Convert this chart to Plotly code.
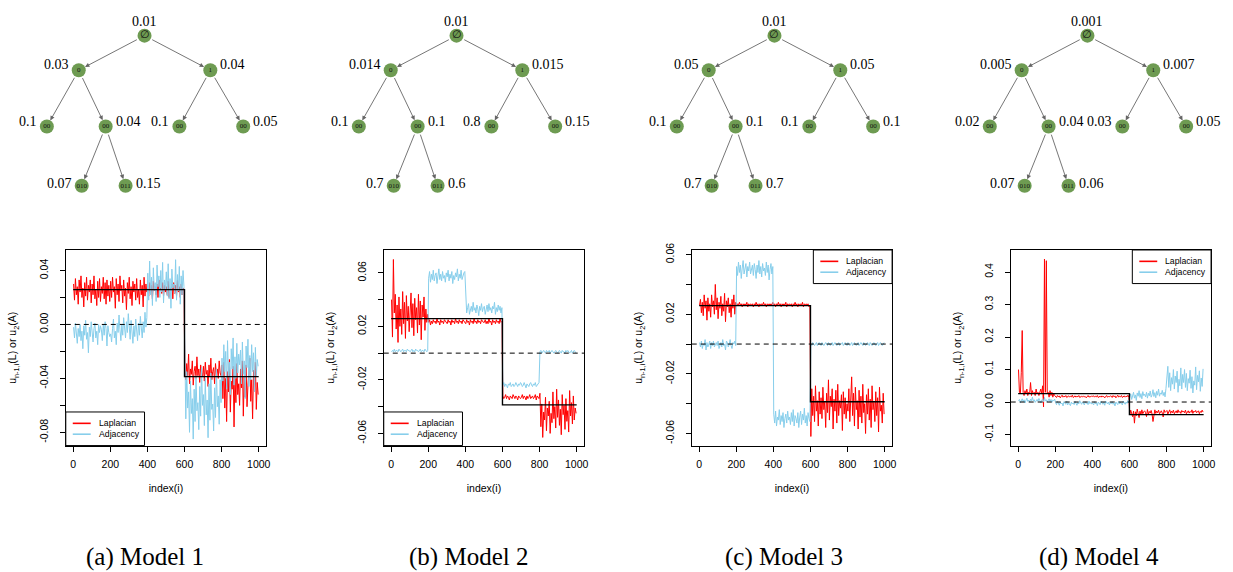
import plotly.graph_objects as go

W, H = 1233, 572

# ---------------- data ----------------
# sampled node indices (every 5th node of 1000)
INDEX = list(range(2, 1000, 5))
UNIT = 0.001  # series values below are given in thousandths

lap1 = [30, 18, 34, 22, 28, 15, 33, 24, 36, 20, 27, 13, 31, 21, 35, 18, 29, 24, 33, 16,
        30, 22, 36, 19, 26, 14, 32, 20, 34, 17, 28, 23, 35, 19, 31, 15, 33, 21, 29, 17,
        32, 20, 35, 24, 28, 12, 34, 22, 30, 17, 36, 25, 29, 16, 33, 21, 27, 11, 31, 23,
        35, 19, 28, 14, 32, 24, 30, 18, 34, 20, 26, 15, 33, 22, 29, 13, 35, 21, 30, 24,
        27, 21, 31, 24, 29, 19, 32, 25, 28, 22, 30, 20, 33, 26, 27, 23, 31, 21, 29, 24,
        28, 22, 32, 20, 27, 25, 30, 19, 31, 23, 29, 21, 33, 24, 28, 20, 30, 22, 27, 25,
        -34, -41, -29, -38, -22, -44, -33, -37, -27, -45, -35, -31, -40, -24, -38, -33, -43, -30, -36, -39,
        -31, -42, -28, -37, -34, -46, -30, -39, -25, -41, -35, -32, -44, -29, -37, -33, -40, -27, -36, -38,
        -30, -55, -28, -62, -40, -72, -35, -50, -26, -65, -42, -48, -31, -76, -38, -58, -29, -52, -44, -60,
        -33, -47, -27, -68, -39, -54, -30, -61, -45, -37, -25, -57, -41, -70, -34, -49, -28, -63, -43, -52]
adj1 = [-2, -10, 1, -7, -14, -3, -9, 0, -12, -5, -18, -1, -8, 3, -11, -6, -21, -2, -9, 2,
        -7, -13, -3, 1, -10, -5, -15, 0, -6, -1, -4, -12, 0, -8, 2, -3, -16, -1, -6, -9,
        -7, -13, -3, 4, -10, -5, -15, 1, -6, 7, -4, -12, 0, -8, 5, -3, -10, 2, -6, 8,
        -2, -11, 3, -7, -14, -1, -9, 4, -5, -12, 1, -8, 6, -4, -10, 2, -6, 9, -2, 5,
        38, 18, 47, 22, 35, 14, 42, 25, 31, 17, 44, 28, 36, 20, 40, 24, 46, 16, 33, 26,
        39, 21, 45, 19, 34, 12, 41, 27, 30, 23, 48, 18, 37, 25, 43, 15, 36, 22, 40, 28,
        -45, -70, -35, -62, -50, -80, -42, -66, -55, -85, -48, -72, -38, -64, -58, -78, -46, -68, -32, -60,
        -52, -75, -40, -67, -56, -84, -44, -71, -36, -63, -59, -79, -47, -69, -33, -61, -53, -74, -41, -58,
        -25, -42, -15, -35, -20, -48, -12, -38, -28, -52, -18, -33, -10, -45, -24, -40, -14, -36, -22, -30,
        -19, -44, -13, -37, -27, -55, -16, -32, -11, -46, -23, -41, -15, -35, -21, -50, -17, -39, -26, -31]

lap2 = [40, 12, 70, 30, 44, 18, 36, 8, 42, 20, 33, 14, 46, 22, 38, 11, 43, 24, 35, 16,
        30, 45, 19, 37, 13, 41, 25, 34, 15, 44, 21, 39, 10, 36, 27, 42, 17, 33, 23, 29,
        23, 25, 21, 24, 22, 25, 23, 24, 22, 26, 23, 24, 21, 25, 23, 24, 22, 25, 24, 23,
        22, 25, 23, 24, 21, 25, 23, 24, 22, 26, 23, 24, 22, 25, 23, 24, 22, 25, 24, 23,
        22, 25, 23, 24, 21, 25, 23, 24, 22, 26, 23, 24, 22, 25, 23, 24, 22, 25, 24, 23,
        23, 25, 22, 24, 22, 26, 23, 24, 21, 25, 23, 24, 22, 25, 23, 24, 22, 26, 23, 24,
        -32, -34, -33, -31, -34, -32, -33, -35, -32, -33, -34, -31, -33, -34, -32, -33, -35, -32, -33, -34,
        -33, -31, -34, -32, -33, -35, -32, -34, -33, -31, -34, -33, -32, -34, -33, -31, -35, -32, -33, -34,
        -30, -55, -38, -63, -44, -50, -33, -58, -41, -47, -36, -60, -45, -52, -29, -49, -40, -56, -27, -48,
        -35, -54, -42, -61, -31, -46, -39, -57, -34, -51, -43, -59, -28, -47, -37, -53, -32, -50, -41, -45]
adj2 = [1, 2, 1, 3, 1, 2, 2, 1, 3, 2, 1, 2, 3, 1, 2, 2, 1, 3, 2, 2,
        1, 2, 3, 1, 2, 1, 3, 2, 2, 1, 2, 3, 1, 2, 2, 1, 3, 2, 1, 2,
        56, 61, 53, 59, 55, 62, 54, 58, 60, 52, 57, 63, 55, 59, 54, 61, 56, 58, 53, 60,
        57, 62, 54, 59, 56, 61, 52, 58, 55, 60, 57, 63, 54, 59, 56, 62, 55, 58, 60, 61,
        36, 30, 34, 37, 29, 33, 35, 31, 38, 32, 34, 30, 36, 33, 28, 35, 32, 37, 31, 34,
        35, 29, 33, 36, 31, 37, 32, 34, 30, 35, 33, 38, 29, 34, 31, 36, 32, 35, 30, 34,
        -24, -22, -25, -23, -24, -26, -23, -24, -22, -25, -24, -23, -25, -24, -22, -24, -25, -23, -24, -22,
        -23, -25, -24, -22, -24, -26, -23, -24, -25, -23, -22, -24, -25, -23, -24, -22, -25, -24, -23, -22,
        1, 2, 0, 1, 2, 1, 0, 2, 1, 1, 2, 0, 1, 2, 1, 0, 1, 2, 1, 0,
        1, 2, 1, 0, 2, 1, 1, 0, 2, 1, 2, 1, 0, 1, 2, 0, 1, 2, 1, 0]

lap3 = [26, 30, 21, 28, 19, 33, 24, 29, 16, 31, 22, 27, 18, 33, 25, 29, 20, 40, 23, 31,
        17, 28, 24, 32, 19, 27, 22, 34, 15, 29, 25, 31, 21, 27, 18, 30, 24, 33, 20, 28,
        26, 27, 26, 28, 26, 27, 25, 27, 26, 27, 26, 28, 25, 27, 26, 27, 26, 27, 25, 27,
        26, 28, 26, 27, 25, 27, 26, 27, 26, 28, 26, 27, 25, 27, 26, 27, 26, 27, 26, 28,
        26, 27, 25, 27, 26, 28, 26, 27, 25, 27, 26, 27, 26, 28, 25, 27, 26, 27, 26, 27,
        25, 27, 26, 28, 26, 27, 25, 27, 26, 27, 26, 28, 25, 27, 26, 27, 26, 27, 25, 26,
        -62, -30, -48, -35, -52, -28, -45, -38, -55, -32, -47, -36, -50, -29, -44, -39, -56, -33, -46, -24,
        -51, -35, -42, -30, -57, -37, -45, -31, -53, -27, -48, -38, -43, -34, -58, -32, -47, -36, -50, -40,
        -45, -30, -52, -36, -22, -48, -33, -55, -29, -44, -38, -57, -31, -49, -35, -53, -27, -46, -40, -60,
        -34, -47, -30, -51, -37, -56, -28, -44, -39, -52, -32, -48, -36, -59, -29, -45, -41, -53, -33, -47]
adj3 = [1, -2, 2, -3, 0, -1, 3, -4, 1, -2, 0, 2, -3, 1, -1, 2, -2, 0, 1, -1,
        2, -3, 0, 1, -2, 3, -1, 0, -4, 2, 1, -2, 0, 3, -1, -3, 1, 0, 2, -1,
        52, 46, 55, 48, 53, 44, 51, 56, 47, 50, 54, 45, 52, 49, 55, 47, 51, 53, 46, 54,
        50, 44, 53, 48, 56, 47, 52, 45, 54, 49, 51, 46, 55, 48, 53, 43, 50, 54, 47, 52,
        -47, -53, -45, -55, -49, -51, -44, -54, -48, -52, -46, -56, -50, -47, -53, -45, -51, -49, -54, -46,
        -52, -44, -55, -48, -50, -53, -46, -56, -49, -45, -54, -47, -51, -43, -53, -48, -55, -46, -50, -52,
        0, -1, 1, 0, -1, 0, 1, -1, 0, 1, 0, -1, 1, 0, -1, 0, 1, 0, -1, 1,
        0, -1, 0, 1, -1, 0, 1, 0, -1, 0, 1, -1, 0, 0, 1, -1, 0, 1, 0, -1,
        1, 0, -1, 0, 1, -1, 0, 1, 0, -1, 0, 1, -1, 0, 1, 0, -1, 1, 0, -1,
        0, 1, 0, -1, 1, 0, -1, 0, 1, 0, -1, 0, 1, -1, 0, 1, 0, -1, 0, 1]

lap4 = [100, 30, 25, 90, 220, 30, 20, 35, 25, 40, 20, 30, 25, 60, 20, 35, 25, 30, 20, 40,
        25, 30, 20, 35, 40, 25, 50, -15, 440, 30, 435, 25, 30, 15, 35, 20, 30, 15, 25, 20,
        18, 14, 20, 16, 19, 13, 17, 21, 15, 18, 16, 20, 14, 17, 19, 15, 18, 16, 21, 14,
        17, 19, 15, 18, 16, 20, 14, 17, 18, 15, 19, 16, 17, 13, 18, 20, 15, 17, 16, 19,
        17, 19, 15, 18, 16, 20, 14, 17, 18, 15, 19, 16, 17, 13, 18, 20, 15, 17, 16, 19,
        18, 14, 20, 16, 19, 13, 17, 21, 15, 18, 16, 20, 14, 17, 19, 15, 18, 16, 21, 14,
        -38, -25, -32, -45, -28, -65, -30, -42, -22, -35, -48, -28, -40, -24, -36, -30, -27, -33, -45, -23,
        -38, -29, -34, -26, -37, -60, -31, -24, -35, -28, -33, -25, -36, -30, -27, -34, -46, -24, -32, -29,
        -26, -37, -31, -24, -35, -28, -33, -25, -36, -30, -27, -34, -24, -32, -29, -35, -26, -31, -28, -33,
        -25, -36, -30, -27, -34, -29, -32, -24, -35, -28, -31, -26, -33, -30, -27, -36, -29, -32, -25, -31]
adj4 = [3, 8, -2, 6, 10, 1, 7, -3, 5, 12, 2, 6, 0, 9, 4, 15, 3, 7, -1, 5,
        8, 2, 11, 4, -2, 6, 9, 1, 14, 3, 7, 0, 5, 10, 2, 8, -1, 6, 4, 9,
        -2, -8, 2, -5, -10, 0, -6, -3, -12, 1, -4, -7, 3, -9, -2, -5, -11, 0, -6, -3,
        -8, 2, -4, -10, -1, -6, 4, -3, -7, 0, -5, -9, 1, -4, -2, -8, 3, -5, -1, -6,
        -4, -9, 1, -6, -2, -11, 0, -5, -8, 2, -3, -7, -1, -10, 3, -4, -6, 0, -9, -2,
        -5, 1, -7, -3, -12, 0, -4, -8, 2, -6, -1, -5, -9, 3, -3, -7, 0, -4, 5, -2,
        15, 25, 8, 20, 30, 12, 22, 5, 28, 18, 35, 14, 26, 10, 32, 20, 24, 16, 30, 12,
        27, 19, 34, 15, 22, 38, 17, 29, 13, 33, 21, 40, 18, 28, 24, 36, 20, 30, 16, 42,
        70, 110, 45, 90, 35, 75, 55, 100, 40, 80, 60, 95, 30, 70, 50, 105, 40, 85, 60, 100,
        45, 88, 35, 72, 58, 98, 42, 78, 28, 65, 52, 108, 38, 82, 62, 96, 33, 74, 48, 102]

LAPLACIAN = [lap1, lap2, lap3, lap4]
ADJACENCY = [adj1, adj2, adj3, adj4]

# true step signal
TRUTH_X = [0, 600, 1000]
TRUTH_Y = [0.0258, -0.0387, -0.0387]

# y tick values / labels per panel
YTICKS = [
    [-0.08, -0.06, -0.04, -0.02, 0.0, 0.02, 0.04],
    [-0.06, -0.04, -0.02, 0.0, 0.02, 0.04, 0.06],
    [-0.06, -0.04, -0.02, 0.0, 0.02, 0.04, 0.06],
    [-0.1, 0.0, 0.1, 0.2, 0.3, 0.4],
]
YTICKTEXT = [
    ["-0.08", "", "-0.04", "", "0.00", "", "0.04"],
    ["-0.06", "", "-0.02", "", "0.02", "", "0.06"],
    ["-0.06", "", "-0.02", "", "0.02", "", "0.06"],
    ["-0.1", "0.0", "0.1", "0.2", "0.3", "0.4"],
]
XTICKS = [0, 200, 400, 600, 800, 1000]

# tree: node names, parents, depth and probabilities per model
TREE_NAMES = ["\u2205", "0", "1", "00", "00", "00", "00", "010", "011"]
TREE_PARENT = [None, 0, 0, 1, 1, 2, 2, 4, 4]
TREE_DEPTH = [0, 1, 1, 2, 2, 2, 2, 3, 3]
PROBS = [
    ["0.01", "0.03", "0.04", "0.1", "0.04", "0.1", "0.05", "0.07", "0.15"],
    ["0.01", "0.014", "0.015", "0.1", "0.1", "0.8", "0.15", "0.7", "0.6"],
    ["0.01", "0.05", "0.05", "0.1", "0.1", "0.1", "0.1", "0.7", "0.7"],
    ["0.001", "0.005", "0.007", "0.02", "0.04", "0.03", "0.05", "0.07", "0.06"],
]
CAPTIONS = ["(a) Model 1", "(b) Model 2", "(c) Model 3", "(d) Model 4"]
SERIES_NAMES = ["Laplacian", "Adjacency"]

# ---------------- layout parameters ----------------
PLOT_LEFT = [66, 385, 694, 1014]
PLOT_W = 201
PLOT_TOP, PLOT_BOTTOM = 246, 444
YRANGES = [[-0.0898, 0.0552], [-0.0691, 0.0771], [-0.0681, 0.0631], [-0.134, 0.468]]
XRANGE = [-40, 1040]
LEGEND_POS = ["bl", "bl", "tr", "tr"]
LEG_W, LEG_H = 79, 34

ROOT_X = [145, 458, 777, 1091]
NODE_DX = [0, -66, 66, -98, -39, 35, 99, -63, -19]
LEVEL_Y = [29, 64, 121, 181]
LABEL_SIDE = ["top", "left", "right", "left", "right", "left", "right", "left", "right"]
LABEL_DY = [-14, -6, -6, -5, -5, -5, -5, -2, -2]
CAPTION_X = [145, 470, 787, 1103]
CAPTION_Y = 557

RED = "#FF0000"
BLUE = "#87CEEB"
NODE_GREEN = "#6E9B52"
SANS = "Liberation Sans, Arial, sans-serif"
SERIF = "Liberation Serif, Times New Roman, serif"

fig = go.Figure()


def px_x(v):
    return v / W


def px_y(v):
    return 1 - v / H


layout_axes = {}
shapes = []
annotations = []

for p in range(4):
    k = p + 1
    xa = "x" if k == 1 else f"x{k}"
    ya = "y" if k == 1 else f"y{k}"
    xname = "xaxis" if k == 1 else f"xaxis{k}"
    yname = "yaxis" if k == 1 else f"yaxis{k}"

    lap = [v * UNIT for v in LAPLACIAN[p]]
    adj = [v * UNIT for v in ADJACENCY[p]]

    fig.add_trace(go.Scatter(x=INDEX, y=lap, mode="lines", name=SERIES_NAMES[0],
                             line=dict(color=RED, width=1), xaxis=xa, yaxis=ya,
                             showlegend=False, hoverinfo="skip"))
    fig.add_trace(go.Scatter(x=INDEX, y=adj, mode="lines", name=SERIES_NAMES[1],
                             line=dict(color=BLUE, width=1), xaxis=xa, yaxis=ya,
                             showlegend=False, hoverinfo="skip"))
    fig.add_trace(go.Scatter(x=TRUTH_X, y=TRUTH_Y, mode="lines", line_shape="hv",
                             line=dict(color="black", width=1.4), xaxis=xa, yaxis=ya,
                             showlegend=False, hoverinfo="skip"))

    x0 = PLOT_LEFT[p]
    layout_axes[xname] = dict(
        domain=[px_x(x0), px_x(x0 + PLOT_W)], range=XRANGE, anchor=ya,
        tickvals=XTICKS, ticks="outside", ticklen=5, tickwidth=1, tickcolor="black",
        ticklabelstandoff=4,
        showline=True, linecolor="black", linewidth=1, mirror=True,
        showgrid=False, zeroline=False,
        tickfont=dict(family=SANS, size=10.5, color="black"),
        title=dict(text="index(i)", font=dict(family=SANS, size=10.5, color="black"), standoff=15),
    )
    layout_axes[yname] = dict(
        domain=[px_y(PLOT_BOTTOM), px_y(PLOT_TOP)], range=YRANGES[p], anchor=xa,
        tickvals=YTICKS[p], ticktext=YTICKTEXT[p], tickangle=-90, ticklabelstandoff=8,
        ticks="outside", ticklen=5, tickwidth=1, tickcolor="black",
        showline=True, linecolor="black", linewidth=1, mirror=True,
        showgrid=False, zeroline=False,
        tickfont=dict(family=SANS, size=10.5, color="black"),
        title=dict(text="u<sub>n-1,i</sub>(L) or u<sub>2</sub>(A)",
                   font=dict(family=SANS, size=10.5, color="black"), standoff=18),
    )
    shapes.append(dict(type="line", xref=f"{xa} domain", yref=ya, x0=0, x1=1, y0=0, y1=0,
                       line=dict(color="black", width=1, dash="5px,4px"), layer="above"))

    # ---- legend box (R style) ----
    if LEGEND_POS[p] == "bl":
        bx0, by0 = x0, PLOT_BOTTOM - LEG_H
    else:
        bx0, by0 = x0 + PLOT_W - LEG_W, PLOT_TOP
    shapes.append(dict(type="rect", xref="paper", yref="paper",
                       x0=px_x(bx0), x1=px_x(bx0 + LEG_W), y0=px_y(by0 + LEG_H), y1=px_y(by0),
                       fillcolor="white", line=dict(color="black", width=1), layer="above"))
    for j, (nm, col) in enumerate(zip(SERIES_NAMES, [RED, BLUE])):
        ry = by0 + 11.5 + j * 11
        shapes.append(dict(type="line", xref="paper", yref="paper",
                           x0=px_x(bx0 + 7), x1=px_x(bx0 + 25), y0=px_y(ry), y1=px_y(ry),
                           line=dict(color=col, width=1.6), layer="above"))
        annotations.append(dict(x=px_x(bx0 + 31), y=px_y(ry), xref="paper", yref="paper",
                                text=nm, showarrow=False, xanchor="left", yanchor="middle",
                                font=dict(family=SANS, size=8.7, color="black")))

    # ---- tree ----
    nx = [ROOT_X[p] + NODE_DX[i] for i in range(len(TREE_NAMES))]
    ny = [LEVEL_Y[d] for d in TREE_DEPTH]
    for i, par in enumerate(TREE_PARENT):
        if par is None:
            continue
        annotations.append(dict(x=nx[i], y=ny[i], ax=nx[par], ay=ny[par],
                                xref="x5", yref="y5", axref="x5", ayref="y5",
                                text="", showarrow=True, arrowhead=2, arrowsize=1,
                                arrowwidth=0.9, arrowcolor="#666666",
                                standoff=7, startstandoff=7))
    fig.add_trace(go.Scatter(x=nx, y=ny, mode="markers+text", text=TREE_NAMES,
                             textposition="middle center",
                             textfont=dict(family=SERIF, size=[11] + [7] * 8, color="#111111"),
                             marker=dict(size=14, color=NODE_GREEN, line=dict(width=0)),
                             xaxis="x5", yaxis="y5", showlegend=False, hoverinfo="skip"))
    for i, side in enumerate(LABEL_SIDE):
        if side == "top":
            ax_, xa_ = nx[i], "center"
        elif side == "left":
            ax_, xa_ = nx[i] - 8, "right"
        else:
            ax_, xa_ = nx[i] + 8, "left"
        annotations.append(dict(x=ax_, y=ny[i] + LABEL_DY[i], xref="x5", yref="y5",
                                text=PROBS[p][i], showarrow=False, xanchor=xa_, yanchor="middle",
                                font=dict(family=SERIF, size=14, color="black")))

    annotations.append(dict(x=px_x(CAPTION_X[p]), y=px_y(CAPTION_Y), xref="paper", yref="paper",
                            text=CAPTIONS[p], showarrow=False, xanchor="center", yanchor="middle",
                            font=dict(family=SERIF, size=25, color="black")))

layout_axes["xaxis5"] = dict(domain=[0, 1], range=[0, W], visible=False, anchor="y5", fixedrange=True)
layout_axes["yaxis5"] = dict(domain=[0, 1], range=[H, 0], visible=False, anchor="x5", fixedrange=True)

fig.update_layout(
    width=W, height=H,
    margin=dict(l=0, r=0, t=0, b=0),
    paper_bgcolor="white", plot_bgcolor="rgba(0,0,0,0)",
    showlegend=False,
    shapes=shapes, annotations=annotations,
    **layout_axes,
)

fig.write_html("out.html", config={"displayModeBar": False},
               post_script="document.body.style.margin='0';document.body.style.overflow='hidden';")
